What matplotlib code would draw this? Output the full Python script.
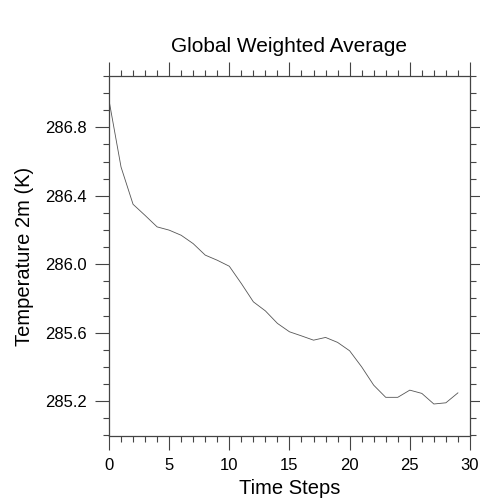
import matplotlib.pyplot as plt
from matplotlib.ticker import MultipleLocator

plt.rcParams['font.family'] = ['Liberation Sans', 'DejaVu Sans']

# global weighted 2m temperature per time step
steps = list(range(30))
temp_2m = [286.958, 286.568, 286.350, 286.285, 286.218, 286.199, 286.169, 286.120,
           286.053, 286.023, 285.988, 285.887, 285.780, 285.727, 285.654, 285.605,
           285.581, 285.556, 285.572, 285.543, 285.494, 285.400, 285.293, 285.222,
           285.222, 285.264, 285.245, 285.183, 285.190, 285.248]

fig = plt.figure(figsize=(4.81, 5.03), dpi=100)
ax = fig.add_axes([0.2266, 0.1332, 0.7504, 0.7158])

ax.plot(steps, temp_2m, color='#555555', linewidth=0.6)

ax.set_xlim(0, 30)
ax.set_ylim(284.996, 287.1)
ax.xaxis.set_major_locator(MultipleLocator(5))
ax.xaxis.set_minor_locator(MultipleLocator(1))
ax.yaxis.set_major_locator(MultipleLocator(0.4))
ax.yaxis.set_minor_locator(MultipleLocator(0.1))
ax.yaxis.set_major_formatter(plt.FormatStrFormatter('%.1f'))

ax.tick_params(which='both', direction='out', top=True, right=True,
               width=0.8, color='#444444', labelsize=12)
ax.tick_params(which='major', length=10, pad=6)
ax.tick_params(which='minor', length=4.5)
for s in ax.spines.values():
    s.set_linewidth(0.9)
    s.set_color('#444444')

ax.set_title('Global Weighted Average', fontsize=15, pad=17)
ax.set_xlabel('Time Steps', fontsize=14.5, labelpad=4)
ax.set_ylabel('Temperature 2m (K)', fontsize=14.5, labelpad=8)

fig.savefig('out.png', dpi=100)
